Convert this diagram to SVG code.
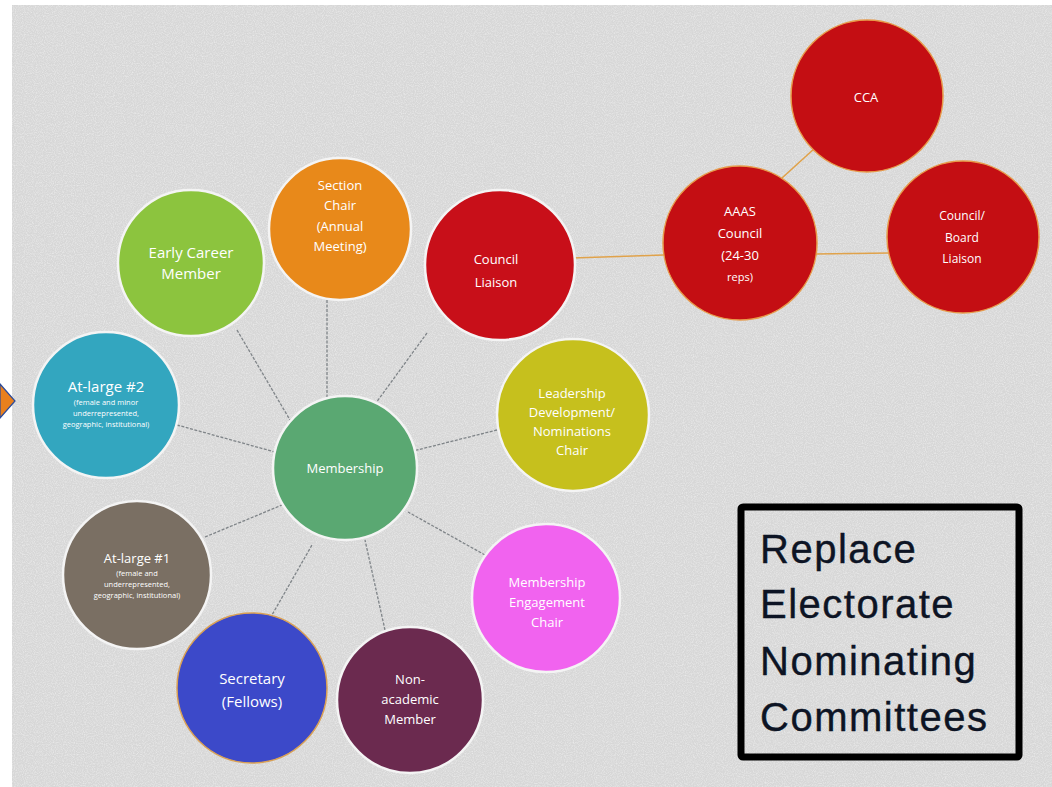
<svg xmlns="http://www.w3.org/2000/svg" width="1052" height="787" viewBox="0 0 1052 787">
<defs>
<filter id="grain" x="0" y="0" width="100%" height="100%">
<feTurbulence type="fractalNoise" baseFrequency="0.9" numOctaves="2" seed="3" result="n"/>
<feColorMatrix type="matrix" values="0 0 0 0 1  0 0 0 0 1  0 0 0 0 1  0 0 0 0.9 -0.35" in="n"/>
</filter>
<style>
.node{stroke:#f4f4f4;stroke-width:2.5}
.red{fill:#c40e13;stroke:#e79a4a;stroke-width:1.5}
.lbl{font-family:"Open Sans","Liberation Sans",sans-serif;fill:#ffffff;text-anchor:middle;font-size:15px}
.sm{font-size:13px}
.xs{font-size:7.5px}
.spoke{stroke:#7f8488;stroke-width:1.3;stroke-dasharray:3 1.5;fill:none}
.link{stroke:#e0a24a;stroke-width:1.6;fill:none}
.box{font-family:"Liberation Sans",Arial,sans-serif;font-size:40px;letter-spacing:1.5px;fill:#0d1424;stroke:#0d1424;stroke-width:0.4}
</style>
</defs>
<rect x="0" y="0" width="1052" height="787" fill="#ffffff"/>
<rect x="12" y="5" width="1040" height="782" fill="#d7d7d7"/>
<rect x="12" y="5" width="1040" height="782" filter="url(#grain)"/>
<polygon points="0,384 15,401 0,418" fill="#e8801e" stroke="#2a4a9a" stroke-width="1.2"/>
<g id="connectors">
<line class="spoke" x1="237" y1="330" x2="290" y2="420"/>
<line class="spoke" x1="327" y1="300" x2="327" y2="400"/>
<line class="spoke" x1="427" y1="333" x2="373" y2="407"/>
<line class="spoke" x1="497" y1="430" x2="397" y2="455"/>
<line class="spoke" x1="177" y1="425" x2="275" y2="452"/>
<line class="spoke" x1="205" y1="537" x2="282" y2="505"/>
<line class="spoke" x1="268" y1="622" x2="312" y2="545"/>
<line class="spoke" x1="385" y1="630" x2="365" y2="540"/>
<line class="spoke" x1="485" y1="555" x2="408" y2="512"/>
<line class="link" x1="572" y1="258" x2="664" y2="255"/>
<line class="link" x1="782" y1="178" x2="815" y2="148"/>
<line class="link" x1="815" y1="254" x2="890" y2="253"/>
</g>
<g id="membership"><circle class="node" cx="345" cy="468" r="72" fill="#5aa872"/><text class="lbl sm" x="345" y="473">Membership</text></g>
<g id="section-chair"><circle class="node" cx="340" cy="229" r="71" fill="#e8891a"/><text class="lbl sm" x="340" y="190">Section</text><text class="lbl sm" x="340" y="210">Chair</text><text class="lbl sm" x="340" y="231">(Annual</text><text class="lbl sm" x="340" y="251">Meeting)</text></g>
<g id="early-career"><circle class="node" cx="191" cy="263" r="73" fill="#8cc43e"/><text class="lbl" x="191" y="258">Early Career</text><text class="lbl" x="191" y="279">Member</text></g>
<g id="council-liaison"><circle class="node" cx="500" cy="265" r="75" fill="#c80f19"/><text class="lbl sm" x="496" y="264">Council</text><text class="lbl sm" x="496" y="287">Liaison</text></g>
<g id="leadership"><circle class="node" cx="573" cy="415" r="76" fill="#c6c01d"/><text class="lbl sm" x="572" y="398">Leadership</text><text class="lbl sm" x="572" y="417">Development/</text><text class="lbl sm" x="572" y="436">Nominations</text><text class="lbl sm" x="572" y="455">Chair</text></g>
<g id="engagement"><circle class="node" cx="546" cy="598" r="74" fill="#f163ef"/><text class="lbl sm" x="547" y="587">Membership</text><text class="lbl sm" x="547" y="607">Engagement</text><text class="lbl sm" x="547" y="627">Chair</text></g>
<g id="non-academic"><circle class="node" cx="410" cy="700" r="73" fill="#6b2a4f"/><text class="lbl sm" x="410" y="684">Non-</text><text class="lbl sm" x="410" y="704">academic</text><text class="lbl sm" x="410" y="724">Member</text></g>
<g id="secretary"><circle cx="252" cy="688" r="75" fill="#3c49c9" stroke="#d9a055" stroke-width="1.5"/><text class="lbl" x="252" y="684">Secretary</text><text class="lbl" x="252" y="707">(Fellows)</text></g>
<g id="at-large-1"><circle class="node" cx="137" cy="575" r="74" fill="#7a6f63"/><text class="lbl sm" x="137" y="563">At-large #1</text><text class="lbl xs" x="137" y="576">(female and</text><text class="lbl xs" x="137" y="587">underrepresented,</text><text class="lbl xs" x="137" y="598">geographic, institutional)</text></g>
<g id="at-large-2"><circle class="node" cx="106" cy="405" r="73" fill="#33a6bf"/><text class="lbl" x="106" y="392">At-large #2</text><text class="lbl xs" x="106" y="405">(female and minor</text><text class="lbl xs" x="106" y="416">underrepresented,</text><text class="lbl xs" x="106" y="427">geographic, institutional)</text></g>
<g id="aaas-council"><circle class="red" cx="740" cy="243" r="77"/><text class="lbl sm" x="740" y="216">AAAS</text><text class="lbl sm" x="740" y="238">Council</text><text class="lbl sm" x="740" y="260">(24-30</text><text class="lbl xs" style="font-size:11px" x="740" y="281">reps)</text></g>
<g id="cca"><circle class="red" cx="867" cy="96" r="76"/><text class="lbl sm" x="866" y="102">CCA</text></g>
<g id="council-board-liaison"><circle class="red" cx="963" cy="237" r="76"/><text class="lbl" style="font-size:12px" x="962" y="220">Council/</text><text class="lbl" style="font-size:12px" x="962" y="242">Board</text><text class="lbl" style="font-size:12px" x="962" y="263">Liaison</text></g>
<g id="note"><rect x="741" y="507" width="278" height="250" fill="none" stroke="#000000" stroke-width="7" rx="2"/><text class="box" x="760" y="563">Replace</text><text class="box" x="760" y="618">Electorate</text><text class="box" x="760" y="675">Nominating</text><text class="box" x="760" y="731">Committees</text></g>
</svg>
